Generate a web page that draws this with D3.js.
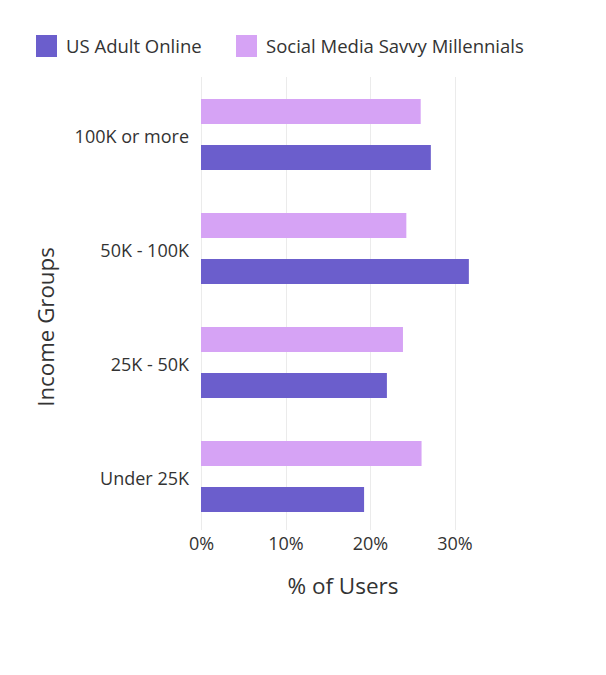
<!DOCTYPE html>
<html><head><meta charset="utf-8">
<script src="https://cdn.jsdelivr.net/npm/d3@7"></script>
<style>body{margin:0;background:#fff;} svg{display:block;font-family:"Open Sans",sans-serif;}</style>
</head><body>
<svg id="c" width="606" height="675"></svg>
<script>
const categories = ["100K or more", "50K - 100K", "25K - 50K", "Under 25K"];
const seriesNames = ["Social Media Savvy Millennials", "US Adult Online"];
const millennials = [26.0, 24.3, 23.9, 26.1];
const usAdults = [27.2, 31.7, 22.0, 19.3];
const xTicks = [0, 10, 20, 30];
const legendOrder = ["US Adult Online", "Social Media Savvy Millennials"];
const colors = {"US Adult Online": "#6b5ecc", "Social Media Savvy Millennials": "#d6a3f5"};

const data = categories.map((c, i) => ({cat: c, vals: [
  {s: seriesNames[0], v: millennials[i]},
  {s: seriesNames[1], v: usAdults[i]}
]}));

const svg = d3.select("#c");
const x = d3.scaleLinear().domain([0, 35]).range([201, 201 + 8.45 * 35]);
const y = d3.scaleBand().domain(categories).range([77.5, 533.5]).padding(0);
const y1 = d3.scaleBand().domain(seriesNames).range([21.5, 92.5]).paddingInner(21 / 46).paddingOuter(0);

svg.append("g").selectAll("line").data(xTicks).join("line")
  .attr("x1", d => Math.round(x(d)) + 0.5).attr("x2", d => Math.round(x(d)) + 0.5)
  .attr("y1", 77).attr("y2", 530)
  .attr("stroke", "#ebebeb").attr("stroke-width", 1);

const g = svg.append("g").selectAll("g").data(data).join("g")
  .attr("transform", d => `translate(0,${y(d.cat)})`);
g.selectAll("rect").data(d => d.vals).join("rect")
  .attr("x", x(0)).attr("y", d => y1(d.s))
  .attr("width", d => x(d.v) - x(0)).attr("height", y1.bandwidth())
  .attr("fill", d => colors[d.s]);

const xAxis = d3.axisBottom(x).tickValues(xTicks).tickFormat(d => d + "%").tickSize(0).tickPadding(0);
const xa = svg.append("g").attr("transform", "translate(0,537)").call(xAxis);
xa.select(".domain").remove();
xa.selectAll("text").attr("font-size", 18).attr("fill", "#333").attr("font-family", "'Open Sans', sans-serif").attr("dy", "0.71em");

const yAxis = d3.axisLeft(y).tickSize(0).tickPadding(12);
const ya = svg.append("g").attr("transform", `translate(${x(0)},0)`).call(yAxis);
ya.select(".domain").remove();
ya.selectAll("text").attr("font-size", 18).attr("fill", "#333").attr("font-family", "'Open Sans', sans-serif").attr("dy", "0.45em");

svg.append("text").attr("x", 343).attr("y", 594).attr("text-anchor", "middle")
  .attr("font-size", 22.5).attr("fill", "#333").text("% of Users");
svg.append("text").attr("transform", "translate(54,327) rotate(-90)").attr("text-anchor", "middle")
  .attr("font-size", 22.3).attr("fill", "#333").text("Income Groups");

const legX = [36, 236];
const lg = svg.append("g").selectAll("g").data(legendOrder).join("g")
  .attr("transform", (d, i) => `translate(${legX[i]},35)`);
lg.append("rect").attr("width", 21).attr("height", 22).attr("fill", d => colors[d]);
lg.append("text").attr("x", 30).attr("y", 18).attr("font-size", 18.5).attr("fill", "#333").text(d => d);
</script>
</body></html>
